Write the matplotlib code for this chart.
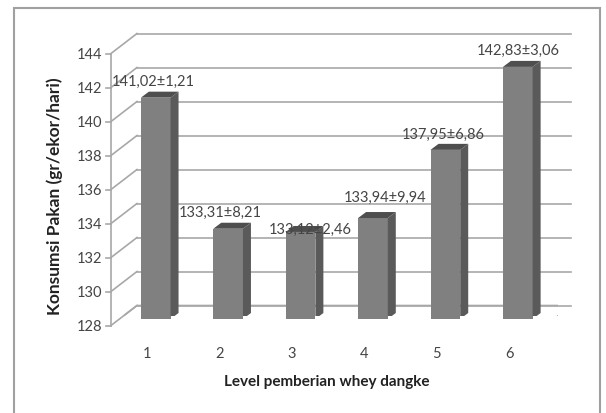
import matplotlib
matplotlib.use("Agg")
import matplotlib.pyplot as plt
import numpy as np
from matplotlib.patches import Polygon, Rectangle
from matplotlib.transforms import ScaledTranslation, IdentityTransform

# data
levels = ["1", "2", "3", "4", "5", "6"]
konsumsi = [141.02, 133.31, 133.12, 133.94, 137.95, 142.83]
sd = [1.21, 8.21, 2.46, 9.94, 6.86, 3.06]
y_ticks = [128, 130, 132, 134, 136, 138, 140, 142, 144]

plt.rcParams['font.family'] = ['Lato', 'DejaVu Sans']

DPI = 100
fig = plt.figure(figsize=(6.06, 4.14), dpi=DPI)
ax = fig.add_axes([0.2046, 0.2355, 0.717, 0.657])
ax.set_xlim(-0.5, 5.5)
ax.set_ylim(y_ticks[0], y_ticks[-1])
ax.set_autoscale_on(False)
ax.axis('off')

# pseudo 3d offsets in pixels (x right, y up)
FRONT = (-13, -10)
BACK = (13, 10)
BAR_FACE = (-4.5, -3.5)
DEPTH = (8, 6)
BAR_W = 0.41

grid_col = '#a8a8a8'
txt_col = '#454545'
face_col = '#808080'
side_col = '#5a5a5a'
top_col = '#4e4e4e'


def shift(dx, dy):
    return ax.transData + ScaledTranslation(dx / DPI, dy / DPI, fig.dpi_scale_trans)


def pt(x, y, off=(0, 0)):
    return ax.transData.transform((x, y)) + np.array(off)


ident = IdentityTransform()
x0, x1 = -0.5, len(levels) - 0.5
base = y_ticks[0]

# floor
floor = Polygon([pt(x0, base, FRONT), pt(x1, base, FRONT), pt(x1, base, BACK), pt(x0, base, BACK)],
                closed=True, facecolor='white', edgecolor=grid_col, lw=1.2,
                transform=ident, zorder=1)
ax.add_artist(floor)

# back wall grid + side wall diagonals
for t in y_ticks:
    ax.plot([x0, x1], [t, t], transform=shift(*BACK), color=grid_col, lw=1.2,
            clip_on=False, zorder=1)
    a = pt(x0, t, FRONT)
    b = pt(x0, t, BACK)
    ax.plot([a[0], b[0]], [a[1], b[1]], transform=ident, color=grid_col, lw=1.2,
            clip_on=False, zorder=1)
    # tick mark and label on the front axis
    ax.plot([a[0] - 5, a[0]], [a[1], a[1]], transform=ident, color=grid_col, lw=1.2,
            clip_on=False, zorder=1)
    ax.text(x0, t, str(t), transform=shift(FRONT[0] - 9, FRONT[1]), ha='right',
            va='center', fontsize=10.5, color=txt_col)

# front vertical axis
ax.plot([x0, x0], [y_ticks[0], y_ticks[-1]], transform=shift(*FRONT), color=grid_col,
        lw=1.2, clip_on=False, zorder=2)

# bars
xs = np.arange(len(levels))
heights = [v - base for v in konsumsi]
ax.bar(xs, heights, bottom=base, width=BAR_W, color=face_col, linewidth=0,
       transform=shift(*BAR_FACE), clip_on=False, zorder=3)
for i, v in enumerate(konsumsi):
    rb = pt(i + BAR_W / 2, base, BAR_FACE)
    rt = pt(i + BAR_W / 2, v, BAR_FACE)
    lt = pt(i - BAR_W / 2, v, BAR_FACE)
    d = np.array(DEPTH)
    ax.add_artist(Polygon([rb, rt, rt + d, rb + d], closed=True, facecolor=side_col,
                          edgecolor='none', transform=ident, zorder=3))
    ax.add_artist(Polygon([lt, rt, rt + d, lt + d], closed=True, facecolor=top_col,
                          edgecolor='none', transform=ident, zorder=3))

# value labels (mean ± sd), small manual nudges like the original
nudge = [(-2, 0), (-8, 0), (10, -14), (12, 4), (-2, -1), (0, 0)]
for i, (v, s) in enumerate(zip(konsumsi, sd)):
    lab = f"{v:.2f}±{s:.2f}".replace('.', ',')
    ax.text(i, v, lab, transform=shift(BAR_FACE[0] + nudge[i][0], BAR_FACE[1] + 17 + nudge[i][1]),
            ha='center', va='center', fontsize=10.5, color=txt_col, zorder=4)

# category labels
for i, lab in enumerate(levels):
    ax.text(i, base, lab, transform=shift(FRONT[0], FRONT[1] - 27), ha='center',
            va='center', fontsize=10.5, color=txt_col)

fig.text(0.54, 0.077, "Level pemberian whey dangke", ha='center', va='center',
         fontsize=11, fontweight='bold', color='#222222')
fig.text(0.09, 0.527, "Konsumsi Pakan (gr/ekor/hari)", ha='center', va='center',
         rotation=90, fontsize=12.5, fontweight='bold', color='#222222')

# chart frame
fig.add_artist(Rectangle((14 / 606, -0.02), (600 - 14) / 606, (414 - 9) / 414 + 0.02,
                         transform=fig.transFigure, fill=False, edgecolor='#a0a0a0', lw=1.5))

fig.savefig('out.png', dpi=DPI)
